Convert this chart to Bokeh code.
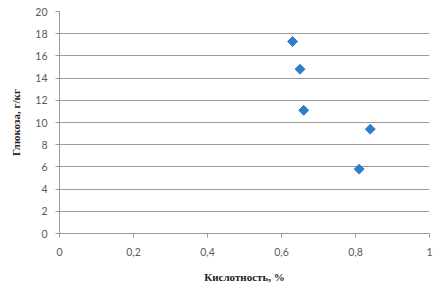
import math
from bokeh.plotting import figure
from bokeh.models import FixedTicker, CustomJSTickFormatter, Range1d
from bokeh.embed import file_html
from bokeh.resources import INLINE

acidity = [0.63, 0.65, 0.66, 0.84, 0.81]
glucose = [17.3, 14.8, 11.1, 9.4, 5.8]
x_ticks = [0, 0.2, 0.4, 0.6, 0.8, 1]
y_ticks = [0, 2, 4, 6, 8, 10, 12, 14, 16, 18, 20]
x_title = "Кислотность, %"
y_title = "Глюкоза, г/кг"

p = figure(width=444, height=293, output_backend="svg", toolbar_location=None,
           x_range=Range1d(0, 1), y_range=Range1d(0, 20),
           min_border_left=59, min_border_right=15, min_border_top=11, min_border_bottom=60)
p.outline_line_color = None
p.background_fill_color = "white"
p.border_fill_color = "white"

p.scatter(acidity, glucose, marker="square", angle=math.pi / 4, size=7,
          color="#2e7dc6", line_color="#2e7dc6")

p.xaxis.ticker = FixedTicker(ticks=x_ticks)
p.yaxis.ticker = FixedTicker(ticks=y_ticks)
p.xaxis.formatter = CustomJSTickFormatter(code="return String(tick).replace('.', ',');")
p.xgrid.grid_line_color = None
p.ygrid.grid_line_color = "#9a9a9a"
p.ygrid.grid_line_width = 1

for ax in (p.xaxis, p.yaxis):
    ax.axis_line_color = "#9a9a9a"
    ax.major_tick_line_color = "#9a9a9a"
    ax.major_tick_out = 4
    ax.major_tick_in = 0
    ax.minor_tick_line_color = None
    ax.major_label_text_font = "Lato"
    ax.major_label_text_font_size = "10.5px"
    ax.major_label_text_color = "#595959"
    ax.axis_label_text_font = "Liberation Serif"
    ax.axis_label_text_font_style = "bold"
    ax.axis_label_text_font_size = "11px"
    ax.axis_label_text_color = "#222222"

p.xaxis.axis_label = x_title
p.yaxis.axis_label = y_title
p.xaxis.major_label_standoff = 10
p.xaxis.axis_label_standoff = 12
p.yaxis.major_label_standoff = 8
p.yaxis.axis_label_standoff = 10

open("out.html", "w").write(file_html(p, INLINE))
